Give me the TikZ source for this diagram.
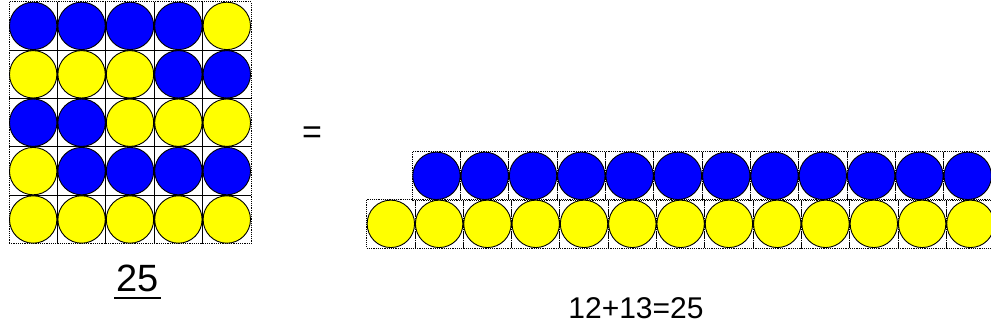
\documentclass[tikz,border=0pt]{standalone}
\usepackage{fontspec}
\setmainfont{Liberation Sans}
\usetikzlibrary{positioning}
\definecolor{dotBlue}{RGB}{0,0,255}
\definecolor{dotYel}{RGB}{255,255,0}

\begin{document}
\begin{tikzpicture}[x=1pt, y=-1pt,
    cell/.style={rectangle, draw=black, dash pattern=on 1.2pt off 1pt, line width=1pt, minimum size=48.3pt, inner sep=0pt},
    ball/.style={circle, draw=black, line width=0.9pt, minimum size=47.4pt, inner sep=0pt},
    big/.style={font=\fontsize{38}{42}\selectfont, inner sep=0pt},
    mid/.style={font=\fontsize{30}{34}\selectfont, inner sep=0pt},
]
\useasboundingbox (0,0) rectangle (991,332);

% ========== LEFT: 5x5 square of 25 ==========
\foreach \c [count=\i from 0] in {dotBlue,dotBlue,dotBlue,dotBlue,dotYel,
                                  dotYel,dotYel,dotYel,dotBlue,dotBlue,
                                  dotBlue,dotBlue,dotYel,dotYel,dotYel,
                                  dotYel,dotBlue,dotBlue,dotBlue,dotBlue,
                                  dotYel,dotYel,dotYel,dotYel,dotYel}{
    \pgfmathtruncatemacro{\r}{\i/5}
    \pgfmathtruncatemacro{\k}{mod(\i,5)}
    \node[cell, minimum size=48.4pt] (sq\i) at ({33.2+48.4*\k},{25.9+48.4*\r}) {};
    \node[ball, fill=\c] (dot\i) at (sq\i) {};
}

% total, underlined
\node[big, anchor=base, inner xsep=2pt] (total) at (137.5,291.7) {25};
\draw[line width=2pt] ([yshift=-6pt]total.base west) -- ([yshift=-6pt]total.base east);

% ========== MIDDLE: equals sign ==========
\node[font=\fontsize{34}{38}\selectfont, inner sep=0pt] (eq) at (312,135) {=};

% ========== RIGHT: 12 blue over 13 yellow ==========
\foreach \k in {0,...,11}{
    \node[cell] (bc\k) at ({436.45+48.3*\k},175.85) {};
    \node[ball, fill=dotBlue] (b\k) at (bc\k) {};
}
\foreach \k in {0,...,12}{
    \node[cell] (yc\k) at ({390.85+48.3*\k},223.85) {};
    \node[ball, fill=dotYel] (y\k) at (yc\k) {};
}

% sum
\node[mid, anchor=base] (sum) at (636,318.3) {12+13=25};

\end{tikzpicture}
\end{document}
